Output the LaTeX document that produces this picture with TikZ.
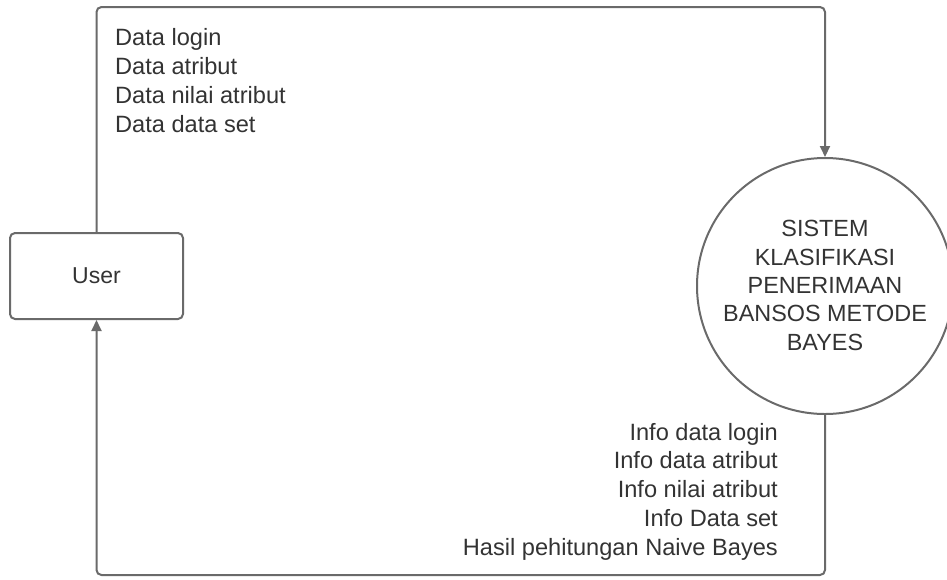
\documentclass[tikz,border=0pt]{standalone}
\usepackage{fontspec}
\setmainfont{Liberation Sans}
\usetikzlibrary{arrows.meta}
\definecolor{linegray}{HTML}{6A6A6A}
\definecolor{txtgray}{HTML}{333333}
\tikzset{
  flowline/.style={draw=linegray, line width=2pt, rounded corners=5pt,
    -{Triangle[length=11pt,width=10pt]}},
  lbl/.style={inner sep=0pt, text=txtgray, font=\fontsize{23.6}{28.7}\selectfont},
  entity/.style={draw=linegray, line width=2pt, rounded corners=5pt,
    minimum width=173pt, minimum height=86pt, inner sep=0pt,
    text=txtgray, font=\fontsize{23}{28.7}\selectfont},
  process/.style={draw=linegray, line width=2pt, circle, minimum size=256pt,
    inner sep=0pt}
}
\begin{document}
\begin{tikzpicture}[x=1pt,y=-1pt]
\useasboundingbox (0,0) rectangle (947,579);
\node[entity] (user) at (96.5,276) {User};
\node[process] (sys) at (825,286) {};
\node[lbl, align=center, anchor=base, font=\fontsize{23.4}{28.3}\selectfont] (systxt) at (825,350)
  {SISTEM\\KLASIFIKASI\\PENERIMAAN\\BANSOS METODE\\BAYES};
\coordinate (tl) at (96.5,7);
\coordinate (bl) at (96.5,575);
\draw[flowline] (user.north) -- (tl) -| (sys.north);
\draw[flowline] (sys.south) |- (bl) -- (user.south);
\node[lbl, align=left, anchor=base west] (inlbl) at (115,132)
  {Data login\\Data atribut\\Data nilai atribut\\Data data set};
\node[lbl, align=right, anchor=base east] (outlbl) at (778,555)
  {Info data login\\Info data atribut\\Info nilai atribut\\Info Data set\\Hasil pehitungan Naive Bayes};
\end{tikzpicture}
\end{document}
